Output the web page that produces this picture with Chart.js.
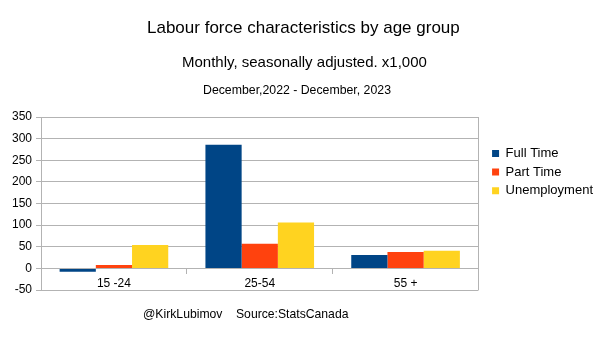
<!DOCTYPE html>
<html>
<head>
<meta charset="utf-8">
<script src="https://cdn.jsdelivr.net/npm/chart.js@4/dist/chart.umd.min.js"></script>
<style>
	body { margin: 0; background: #fff; font-family: "Liberation Sans", Arial, sans-serif; }
	#wrap { position: relative; width: 605px; height: 340px; }
	#myChart { position: absolute; left: 0; top: 0; }
	.txt { position: absolute; color: #000; white-space: nowrap; line-height: normal; }
	#t1 { top: 18px; left: 147px; font-size: 17px; }
	#t2 { top: 53px; left: 182px; font-size: 15px; }
	#t3 { top: 83px; left: 203px; font-size: 12.3px; }
	#foot { top: 307px; left: 143px; font-size: 12.2px; }
</style>
</head>
<body>
<div id="wrap">
	<canvas id="myChart" width="605" height="340"></canvas>
	<div class="txt" id="t1">Labour force characteristics by age group</div>
	<div class="txt" id="t2">Monthly, seasonally adjusted. x1,000</div>
	<div class="txt" id="t3">December,2022 - December, 2023</div>
	<div class="txt" id="foot">@KirkLubimov&nbsp;&nbsp;&nbsp;&nbsp;Source:StatsCanada</div>
</div>
<script>
	var labels = ['15 -24', '25-54', '55 +'];
	var fullTime = [-8, 286, 31];
	var partTime = [8, 57, 38];
	var unemployment = [54, 106, 41];
	var yTicks = [-50, 0, 50, 100, 150, 200, 250, 300, 350];

	var font = { family: '"Liberation Sans", Arial, sans-serif', size: 12 };
	var gridColor = '#b3b3b3';

	// right edge of the plot frame
	var frame = {
		id: 'frame',
		beforeDatasetsDraw: function(chart) {
			var a = chart.chartArea;
			var c = chart.ctx;
			var x = Math.round(a.right) + 0.5;
			c.save();
			c.strokeStyle = gridColor;
			c.lineWidth = 1;
			c.beginPath();
			c.moveTo(x, a.top);
			c.lineTo(x, a.bottom);
			c.stroke();
			c.restore();
		}
	};

	var ctx = document.getElementById('myChart').getContext('2d');
	var myChart = new Chart(ctx, {
		type: 'bar',
		data: {
			labels: labels,
			datasets: [
				{ label: 'Full Time', data: fullTime, backgroundColor: '#004586' },
				{ label: 'Part Time', data: partTime, backgroundColor: '#ff420e' },
				{ label: 'Unemployment', data: unemployment, backgroundColor: '#ffd320' }
			]
		},
		options: {
			responsive: false,
			animation: false,
			events: [],
			categoryPercentage: 0.745,
			barPercentage: 1,
			layout: { padding: { top: 117, bottom: 50, left: 8, right: 2 } },
			plugins: {
				title: { display: false },
				tooltip: { enabled: false },
				legend: {
					position: 'right',
					align: 'start',
					title: { display: true, text: '', padding: { top: 10, bottom: 0 } },
					labels: {
						boxWidth: 7,
						boxHeight: 7,
						padding: 5.6,
						color: '#000',
						font: { family: font.family, size: 13 }
					}
				}
			},
			scales: {
				x: {
					position: { y: 0 },
					grid: { drawOnChartArea: false, drawTicks: true, tickLength: 6, color: gridColor },
					border: { display: false },
					ticks: { color: '#000', font: font, padding: 2 }
				},
				y: {
					min: -50,
					max: 350,
					afterBuildTicks: function(scale) {
						scale.ticks = yTicks.map(function(v) { return { value: v }; });
					},
					grid: { color: gridColor, tickLength: 5 },
					border: { color: gridColor },
					ticks: { color: '#000', font: font, padding: 4 }
				},
				// hidden, only keeps a gap between the plot and the legend
				gap: {
					position: 'right',
					display: false,
					afterFit: function(scale) { scale.width = 8; }
				}
			}
		},
		plugins: [frame]
	});
</script>
</body>
</html>
